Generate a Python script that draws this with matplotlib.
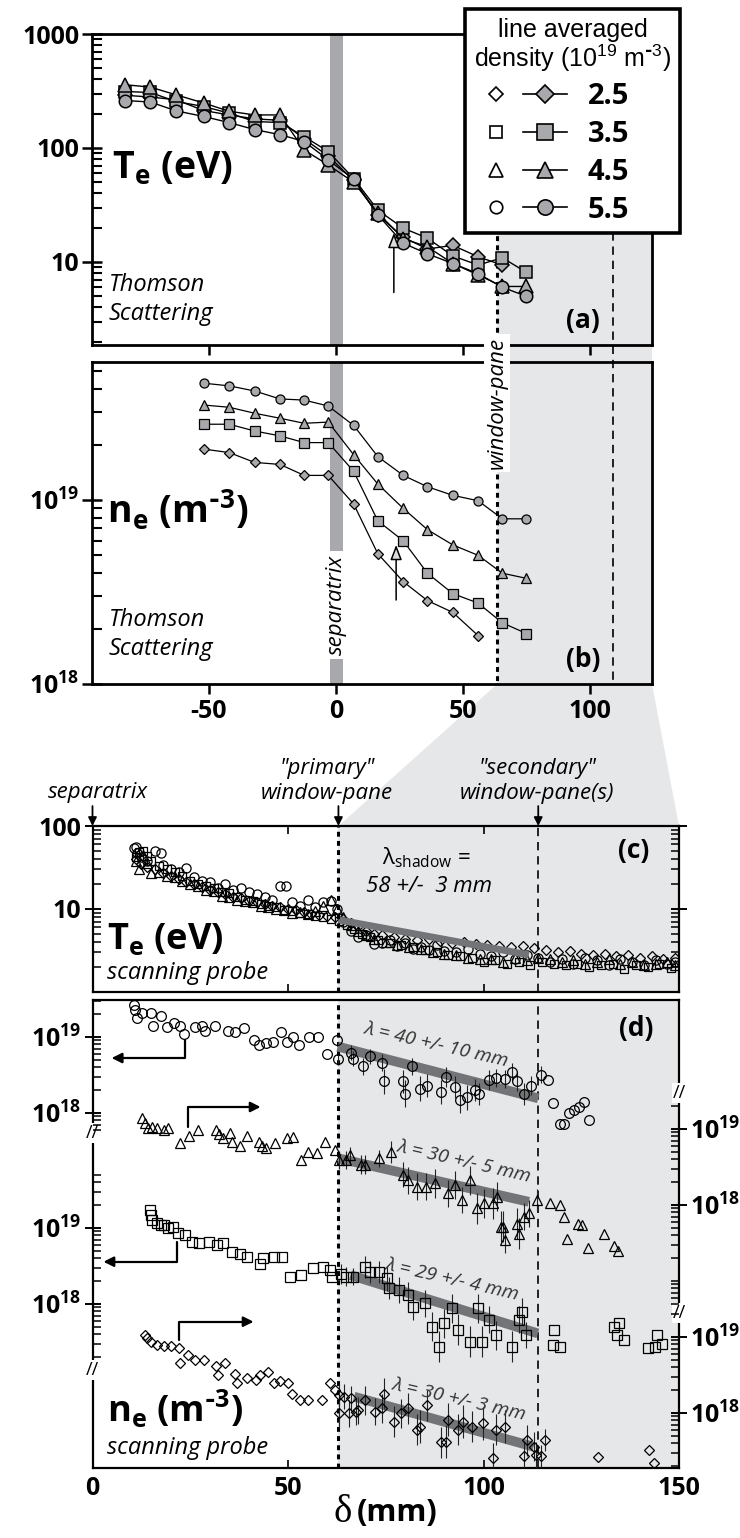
import numpy as np
import matplotlib
matplotlib.use("Agg")
import matplotlib.pyplot as plt
from matplotlib.lines import Line2D
from matplotlib.patches import Polygon
from matplotlib.legend_handler import HandlerTuple
from matplotlib.ticker import FixedLocator, FuncFormatter, NullFormatter

plt.rcParams["font.family"] = ["Open Sans", "DejaVu Sans"]
plt.rcParams["font.weight"] = "bold"
plt.rcParams["mathtext.default"] = "regular"
plt.rcParams["axes.unicode_minus"] = False

# ---------------- data ----------------
# Thomson scattering, panels (a) and (b): distance from separatrix (mm)
ts_delta = [-83, -73, -63, -52, -42, -32, -22, -12.5, -3, 7, 16.5, 26.5, 36, 46, 56, 65.5, 75]
line_avg_density = ["2.5", "3.5", "4.5", "5.5"]

# Te (eV) for each line averaged density
ts_te_25 = [290, 280, 265, 213, 195, 180, 175, 120, 85, 52, 26, 16.5, 13, 14, 11.1, 9.4]
ts_te_35 = [313, 307, 256, 231, 202, 171, 167, 126, 93, 54, 28.5, 19.8, 16.2, 11.3, 9.4, 10.9, 8.1]
ts_te_45 = [359, 342, 293, 248, 210, 195, 195, 96, 71, 50, 27, 16, 13.6, 9.7, 7.7, 6.1, 6.1]
ts_te_55 = [261, 253, 212, 189, 167, 145, 131, 114, 78.7, 53, 25.9, 14.6, 11.8, 9.7, 7.9, 6.0, 5.0]

# ne (m^-3), these start at delta = -52 mm
ts_ne_25 = [1.89e19, 1.81e19, 1.60e19, 1.56e19, 1.36e19, 1.36e19, 9.5e18, 5.1e18, 3.6e18, 2.84e18, 2.45e18, 1.83e18]
ts_ne_35 = [2.58e19, 2.58e19, 2.37e19, 2.23e19, 2.05e19, 2.05e19, 1.43e19, 7.7e18, 6.0e18, 4.0e18, 3.1e18, 2.75e18, 2.15e18, 1.88e18]
ts_ne_45 = [3.28e19, 3.19e19, 2.96e19, 2.78e19, 2.61e19, 2.65e19, 1.76e19, 1.22e19, 9.0e18, 6.9e18, 5.7e18, 5.0e18, 4.0e18, 3.75e18]
ts_ne_55 = [4.31e19, 4.17e19, 3.91e19, 3.54e19, 3.49e19, 3.24e19, 2.54e19, 1.72e19, 1.36e19, 1.18e19, 1.06e19, 9.9e18, 7.9e18, 7.9e18]

# key positions (mm)
separatrix_band = (-2.3, 2.8)
ts_window_primary = 63.5
ts_window_secondary = 109.2
probe_window_primary = 62.9
probe_window_secondary = 114.0

# Scanning probe Te (eV), panel (c)
probe_te_o_x = [10.5, 11, 11.5, 12.5, 14, 16, 17.5, 18, 20, 22, 24, 26, 28, 30, 32, 34, 36, 38, 40, 42, 44, 46,
                48, 49.5, 51, 53, 55, 57, 59, 61, 62.5, 64, 66, 68, 70, 72, 74, 76, 78, 80, 82, 84, 86, 88, 90,
                93, 96, 99, 102, 105, 108, 111, 114, 117, 120, 123, 126, 129, 132, 135, 138, 141, 144, 147, 149]
probe_te_o = [55, 56, 47, 42, 38, 50, 47, 34, 30, 28, 31, 24, 22, 21, 18, 20, 17, 18, 16, 15, 14, 13,
              19, 19, 12, 11, 13, 10.5, 12, 12.5, 10, 7, 5.5, 4.6, 4.8, 3.8, 3.9, 4.2, 3.6, 3.9, 3.3, 3.5, 3.2, 3.7, 3.1,
              3.0, 3.3, 2.9, 2.7, 3.0, 2.5, 2.8, 2.6, 2.3, 2.5, 2.2, 2.6, 2.4, 2.1, 2.5, 2.3, 2.1, 2.4, 2.2, 2.3]
probe_te_s_x = [11, 12, 13, 14, 15, 17, 19, 21, 23, 25, 27, 29, 31, 33, 35, 37, 39, 41, 43, 45, 47, 49, 51, 53,
                55, 57, 59, 61, 63, 65, 67, 69, 71, 73, 76, 79, 82, 85, 88, 91, 94, 97, 100, 103, 106, 109, 112,
                115, 118, 121, 124, 127, 130, 133, 136, 139, 142, 145, 148]
probe_te_s = [42, 48, 50, 44, 38, 33, 30, 28, 25, 22, 20, 19, 18, 16, 15.5, 14, 13, 12.5, 11.5, 11, 10.5, 9.8, 9.5, 9,
              8.6, 8.2, 8, 7.5, 7.2, 6.5, 5.8, 5, 4.6, 4.2, 3.9, 3.7, 3.5, 3.2, 3.0, 2.8, 2.7, 2.6, 2.3, 2.4, 2.2, 2.3, 2.1,
              2.3, 2.2, 2.1, 2.2, 2.0, 2.1, 2.2, 1.9, 2.1, 2.0, 2.2, 1.95]
probe_te_t_x = [11, 12, 13, 14, 15, 17, 19, 21, 23, 25, 27, 29, 31, 33, 35, 37, 39, 41, 43, 45, 47, 49, 51, 53,
                55, 57, 59, 61, 62.5, 64, 66, 68, 70, 72, 75, 78, 81, 84, 87, 90, 93, 96, 99, 102, 105, 108, 111,
                114, 117, 120, 123, 126, 129, 132, 135, 138, 141, 144, 147, 149]
probe_te_t = [38, 30, 45, 36, 27, 28, 25, 24, 22, 20, 19, 17, 16.5, 14.5, 14, 13, 12.5, 12, 11, 10.5, 10, 9.6, 9, 9.2,
              8.8, 9.5, 11, 13, 10, 8, 6.5, 5.5, 4.8, 4.4, 4, 3.7, 3.5, 3.3, 3.0, 2.9, 2.8, 2.6, 2.5, 2.5, 2.3, 2.6, 2.4,
              2.6, 2.5, 2.3, 2.4, 2.2, 2.3, 2.5, 2.2, 2.3, 2.1, 2.2, 2.3, 2.1]
probe_te_d_x = [11, 12.5, 14, 16, 18, 20, 22, 24, 26, 28, 30, 32, 34, 36, 38, 40, 42, 44, 46, 48, 50, 52, 54, 56,
                58, 60, 62, 64, 66, 68, 70, 72, 74, 77, 80, 83, 86, 89, 92, 95, 98, 101, 104, 107, 110, 113, 116,
                119, 122, 125, 128, 131, 134, 137, 140, 143, 146, 149]
probe_te_d = [40, 35, 32, 30, 27, 25, 23, 21, 20, 18.5, 17, 16, 15, 14, 13.5, 12.5, 12, 11.5, 11, 10.5, 10, 9.6, 9.2, 8.8,
              8.5, 8.2, 8, 7.5, 6.8, 6.2, 5.5, 5, 4.8, 4.6, 4.4, 4.2, 4.3, 4.1, 3.9, 4.0, 3.8, 3.7, 3.6, 3.5, 3.6, 3.4, 3.2,
              3.0, 3.1, 2.9, 2.8, 2.9, 2.7, 2.8, 2.6, 2.7, 2.5, 2.6]
te_fit_x = [62.9, 111.6]
te_fit = [7.4, 2.8]

# Scanning probe ne (10^18 m^-3), panel (d); err = relative error bar size
probe_ne_o_x = [10.7, 10.9, 11.5, 12.7, 14.9, 15.4, 17.6, 19.1, 20.9, 22.4, 23.4, 26.1, 27.9, 28.8, 31.3, 34.6, 36.4,
                38.8, 41.3, 42.5, 44.3, 46.1, 48.2, 49.7, 51.3, 52.8, 55.4, 57.6, 60.1, 62.5, 62.7, 66.1, 66.7, 69.2,
                71.0, 74.0, 74.6, 79.5, 79.8, 81.7, 83.7, 85.5, 89.2, 90.4, 92.6, 94.0, 95.9, 97.7, 98.9, 101.3,
                103.1, 105.5, 107.4, 108.6, 110.4, 112.2, 114.7, 116.5, 117.7, 119.5, 120.7, 121.9, 123.1, 124.3,
                125.6, 127.0]
probe_ne_o = [26, 23, 18, 21, 21, 14, 19, 13.5, 15.5, 14, 11, 13.5, 14, 12, 14, 12, 11.5, 13, 9, 7.8, 8.3, 8.7, 11.5,
              8.7, 10, 7.8, 10, 10, 6, 9, 5.2, 6.2, 5.2, 4.1, 5.6, 4.6, 2.6, 2.6, 1.8, 4.1, 2.1, 2.3, 1.9, 3.0, 2.2, 1.5,
              1.6, 2.0, 1.8, 2.7, 2.9, 2.8, 3.5, 2.6, 1.8, 2.3, 3.2, 2.7, 1.35, 0.72, 0.72, 1.0, 1.1, 1.2, 1.4, 0.81]
probe_ne_o_err = [0] * 30 + [0.2, 0.25, 0.25, 0.3, 0.25, 0.3, 0.45, 0.4, 0.5, 0.3, 0.45, 0.4, 0.45, 0.35, 0.4, 0.5,
                             0.45, 0.4, 0.4, 0.35, 0.3, 0.3, 0.3, 0.35, 0.4, 0.35, 0.3] + [0] * 9
probe_ne_t_x = [12.7, 13.3, 14.2, 15.2, 16.4, 18.2, 19.4, 22.4, 24.6, 27.0, 31.5, 32.4, 33.4, 35.2, 35.8, 37.6, 39.5,
                42.5, 43.3, 44.3, 46.7, 49.7, 51.3, 53.4, 55.2, 57.4, 59.5, 61.9, 63.1, 64.9, 65.9, 68.6, 69.8, 73.4,
                76.4, 79.5, 80.7, 83.1, 85.3, 87.7, 91.0, 92.6, 94.6, 96.5, 98.3, 100.1, 102.5, 103.5, 104.4, 104.9,
                105.6, 108.6, 109.2, 110.4, 111.6, 113.7, 117.1, 119.5, 120.5, 121.3, 124.1, 125.3, 126.8, 130.7,
                133.5, 134.3]
probe_ne_t = [13.8, 11.9, 10.2, 10.7, 10.2, 9.7, 10.2, 6.5, 8.1, 9.7, 9.7, 8.6, 7.5, 8.8, 6.8, 5.9, 8.1, 6.8, 5.9, 5.6,
              6.5, 7.5, 7.8, 3.9, 5.0, 4.9, 6.8, 5.3, 3.9, 3.9, 4.5, 3.4, 3.4, 4.1, 5.0, 2.5, 2.1, 1.74, 1.74, 1.93,
              1.43, 1.83, 1.16, 2.1, 0.90, 1.05, 1.05, 1.29, 0.52, 0.52, 0.35, 0.57, 0.42, 0.70, 0.78, 1.16, 1.05, 1.0,
              0.70, 0.36, 0.57, 0.55, 0.27, 0.42, 0.29, 0.245]
probe_ne_t_err = [0] * 28 + [0.3, 0.3, 0.3, 0.35, 0.35, 0.3, 0.4, 0.45, 0.5, 0.5, 0.5, 0.55, 0.5, 0.55, 0.5, 0.55,
                             0.6, 0.55, 0.6, 0.55, 0.6, 0.6, 0.5, 0.6, 0.6, 0.5, 0.5, 0.4] + [0] * 10
probe_ne_s_x = [14.6, 15.0, 15.2, 16.4, 17.6, 18.2, 19.4, 20.6, 21.8, 23.7, 25.5, 27.3, 29.7, 31.9, 33.4, 35.8, 37.6,
                39.4, 42.8, 43.7, 46.5, 48.5, 50.4, 53.4, 56.4, 58.9, 60.7, 61.3, 63.5, 64.9, 66.7, 69.8, 71.0, 73.4,
                75.2, 75.8, 78.3, 80.7, 81.9, 85.0, 86.8, 88.6, 89.8, 91.9, 93.4, 96.5, 98.7, 99.5, 101.3, 103.1,
                107.4, 109.2, 109.8, 110.8, 117.7, 118.1, 119.5, 133.5, 134.1, 134.7, 135.9, 142.0, 143.8, 144.4, 145.6]
probe_ne_s = [17.2, 14.8, 12.7, 11.5, 10.9, 11.0, 9.9, 10.4, 8.5, 8.1, 6.6, 6.3, 6.6, 6.0, 6.3, 4.9, 4.6, 4.2, 3.4, 4.0,
              4.2, 4.2, 2.3, 2.4, 2.95, 3.1, 2.8, 2.3, 2.5, 2.3, 2.3, 3.1, 2.66, 2.66, 2.18, 1.61, 1.53, 1.31, 0.92, 1.02,
              0.50, 0.275, 0.56, 0.88, 0.455, 0.32, 0.88, 0.32, 0.62, 0.39, 0.275, 0.62, 0.79, 0.39, 0.29, 0.455, 0.275,
              0.50, 0.39, 0.56, 0.34, 0.26, 0.275, 0.39, 0.30]
probe_ne_s_err = [0] * 28 + [0.35, 0.35, 0.3, 0.4, 0.4, 0.4, 0.45, 0.4, 0.5, 0.5, 0.5, 0.5, 0.55, 0.6, 0.55, 0.55,
                             0.6, 0.6, 0.55, 0.6, 0.5, 0.55, 0.6, 0.5, 0.5, 0.5] + [0] * 11
probe_ne_d_x = [13.4, 14.0, 14.9, 16.4, 18.2, 20.0, 22.2, 22.5, 24.3, 26.1, 28.5, 31.6, 32.2, 34.0, 36.4, 37.0, 39.4,
                41.9, 42.8, 44.9, 46.5, 48.0, 50.1, 51.0, 53.0, 55.2, 58.6, 60.7, 61.9, 63.1, 63.1, 64.3, 65.5, 66.1,
                67.4, 68.0, 69.8, 72.2, 74.0, 74.6, 77.1, 78.9, 80.7, 83.1, 83.7, 85.5, 89.2, 90.4, 91.0, 93.4, 94.7,
                97.1, 99.9, 102.5, 103.1, 105.6, 110.4, 111.0, 112.9, 113.5, 114.7, 115.7, 129.2, 142.3, 143.6]
probe_ne_d = [10.6, 9.6, 8.7, 7.85, 7.5, 7.6, 7.1, 4.5, 5.8, 5.0, 5.0, 4.1, 3.16, 4.5, 3.3, 2.45, 2.86, 2.7, 3.16, 3.5,
              2.45, 2.6, 2.45, 1.8, 1.48, 1.48, 1.48, 2.45, 2.0, 1.72, 0.99, 1.64, 0.99, 1.56, 1.04, 1.09, 1.48, 1.04,
              1.15, 1.8, 0.77, 0.99, 1.15, 0.60, 0.66, 1.27, 0.41, 0.42, 0.81, 0.60, 0.77, 0.66, 0.73, 0.254, 0.60, 0.66,
              0.27, 0.44, 0.36, 0.28, 0.27, 0.44, 0.26, 0.33, 0.218]
probe_ne_d_err = [0] * 29 + [0.4, 0.5, 0.45, 0.5, 0.45, 0.5, 0.5, 0.55, 0.5, 0.55, 0.6, 0.6, 0.55, 0.6, 0.6, 0.65,
                             0.6, 0.6, 0.65, 0.65, 0.6, 0.65, 0.6, 0.65, 0.6, 0.6, 0.65, 0.6, 0.6, 0.55, 0.5, 0.4,
                             0.4] + [0] * 3

# exponential fits in the shadow (mm, 10^18 m^-3)
ne_fit_o = ([62.7, 114.0], [7.5, 1.56])
ne_fit_t = ([63.0, 111.6], [4.1, 1.1])
ne_fit_s = ([66.0, 113.9], [2.4, 0.41])
ne_fit_d = ([66.9, 112.8], [1.64, 0.36])
ne_fit_labels = ["λ = 40 +/- 10 mm", "λ = 30 +/- 5 mm", "λ = 29 +/- 4 mm", "λ = 30 +/- 3 mm"]

# ---------------- styling ----------------
W, H = 740, 1538
gray_fill = "#a7a9ac"
shade = "#e6e7e8"
fit_gray = "#737477"
markers = {"2.5": "D", "3.5": "s", "4.5": "^", "5.5": "o"}
msize = {"2.5": 0.8, "3.5": 1.0, "4.5": 1.05, "5.5": 1.0}
neg3 = r"$^{\text{-}3}$"


def fx(px):
    return px / W


def fy(py):
    return 1 - py / H


def dec_label(v, pos):
    return r"$10^{%d}$" % round(np.log10(v))


fig = plt.figure(figsize=(7.4, 15.38), dpi=100)
ax_a = fig.add_axes([fx(92), fy(345), (652 - 92) / W, (345 - 34) / H], facecolor="none")
ax_b = fig.add_axes([fx(92), fy(684), (652 - 92) / W, (684 - 362) / H], facecolor="none", sharex=ax_a)
ax_c = fig.add_axes([fx(92.5), fy(992), (679 - 92.5) / W, (992 - 826) / H], facecolor="none")
ax_d = fig.add_axes([fx(92.5), fy(1468), (679 - 92.5) / W, (1468 - 1000) / H], facecolor="none", sharex=ax_c)

# ---------- panels (a) and (b): Thomson scattering ----------
ts_te = {"2.5": ts_te_25, "3.5": ts_te_35, "4.5": ts_te_45, "5.5": ts_te_55}
ts_ne = {"2.5": ts_ne_25, "3.5": ts_ne_35, "4.5": ts_ne_45, "5.5": ts_ne_55}
for key in line_avg_density:
    te = ts_te[key]
    ax_a.plot(ts_delta[:len(te)], te, color="k", lw=1.0, marker=markers[key], ms=9 * msize[key],
              mfc=gray_fill, mec="k", mew=1.1, zorder=3)
    ne = ts_ne[key]
    ax_b.plot(ts_delta[3:3 + len(ne)], ne, color="k", lw=0.9, marker=markers[key], ms=6.5 * msize[key],
              mfc=gray_fill, mec="k", mew=0.9, zorder=3)

for ax in (ax_a, ax_b):
    ax.set_yscale("log")
    ax.axvspan(*separatrix_band, color=gray_fill, lw=0, zorder=1)
    for s in ax.spines.values():
        s.set_linewidth(2.0)
    ax.tick_params(axis="y", which="major", direction="inout", length=14, width=1.8, labelsize=18, pad=2)
    ax.tick_params(axis="y", which="minor", direction="in", length=7, width=1.5)
    ax.tick_params(axis="x", which="major", direction="out", length=7, width=1.8, labelsize=18)
    ax.yaxis.set_minor_formatter(NullFormatter())

ax_a.set_xlim(-96, 124.4)
ax_b.set_xticks([-50, 0, 50, 100])
ax_a.tick_params(axis="x", labelbottom=False)

ax_a.set_ylim(1.87, 1000)
ax_a.yaxis.set_major_locator(FixedLocator([10, 100, 1000]))
ax_a.yaxis.set_major_formatter(FuncFormatter(lambda v, p: "%d" % v))
ax_b.set_ylim(1e18, 5.62e19)
ax_b.yaxis.set_major_locator(FixedLocator([1e18, 1e19]))
ax_b.yaxis.set_major_formatter(FuncFormatter(dec_label))

ax_a.annotate("", xy=(22.8, 18), xytext=(22.8, 5.4),
              arrowprops=dict(arrowstyle="-|>,head_length=0.9,head_width=0.35", fc="#dcdcdc", ec="k",
                              lw=1.1, shrinkA=0, shrinkB=0), zorder=4)
ax_b.annotate("", xy=(23.7, 5.7e18), xytext=(23.7, 2.86e18),
              arrowprops=dict(arrowstyle="-|>,head_length=0.9,head_width=0.35", fc="#dcdcdc", ec="k",
                              lw=1.1, shrinkA=0, shrinkB=0), zorder=4)

ax_a.text(0.035, 0.566, r"T$_e$ (eV)", transform=ax_a.transAxes, fontsize=27, ha="left", va="center")
ax_a.text(0.03, 0.146, "Thomson\nScattering", transform=ax_a.transAxes, fontsize=17, style="italic",
          weight="normal", ha="left", va="center", linespacing=1.25)
ax_a.text(0.877, 0.08, "(a)", transform=ax_a.transAxes, fontsize=19, ha="center", va="center")

ax_b.text(0.027, 0.54, r"n$_e$ (m" + neg3 + ")", transform=ax_b.transAxes, fontsize=27, ha="left", va="center")
ax_b.text(0.03, 0.154, "Thomson\nScattering", transform=ax_b.transAxes, fontsize=17, style="italic",
          weight="normal", ha="left", va="center", linespacing=1.25)
ax_b.text(0.877, 0.075, "(b)", transform=ax_b.transAxes, fontsize=19, ha="center", va="center")
ax_b.text(np.mean(separatrix_band), 0.245, "separatrix", transform=ax_b.get_xaxis_transform(), rotation=90,
          fontsize=16, style="italic", weight="normal", ha="center", va="center",
          bbox=dict(fc="white", ec="none", pad=3), zorder=6)
ax_b.text(ts_window_primary, 0.873, "window-pane", transform=ax_b.get_xaxis_transform(), rotation=90,
          fontsize=16, style="italic", weight="normal", ha="center", va="center", clip_on=False,
          bbox=dict(fc="white", ec="none", pad=2), zorder=6)

# ---------- panel (c): probe Te ----------
probe_te = [(probe_te_o_x, probe_te_o, "o", 6.6), (probe_te_s_x, probe_te_s, "s", 6.0),
            (probe_te_t_x, probe_te_t, "^", 6.6), (probe_te_d_x, probe_te_d, "D", 5.0)]
for xs, ys, m, ms in probe_te:
    ax_c.plot(xs, ys, ls="none", marker=m, ms=ms, mfc="none", mec="k", mew=0.9, zorder=2)
ax_c.plot(te_fit_x, te_fit, color=fit_gray, lw=5, solid_capstyle="butt", zorder=3)
ax_c.set_yscale("log")
ax_c.set_ylim(1, 100)
ax_c.set_xlim(0, 150)
ax_c.yaxis.set_major_locator(FixedLocator([10, 100]))
ax_c.yaxis.set_major_formatter(FuncFormatter(lambda v, p: "%d" % v))
ax_c.yaxis.set_minor_formatter(NullFormatter())
ax_c.tick_params(axis="y", which="major", direction="inout", length=12, width=1.4, labelsize=18, right=True, pad=2)
ax_c.tick_params(axis="y", which="minor", direction="in", length=6, width=1.1, right=True)
ax_c.tick_params(axis="x", which="major", direction="in", length=6, width=1.2, top=True, labelbottom=False)
ax_c.set_xticks([0, 50, 100, 150])
for s in ax_c.spines.values():
    s.set_linewidth(1.6)
ax_c.axvspan(probe_window_primary, 150, color=shade, lw=0, zorder=0)
ax_c.axvline(probe_window_primary, color="k", ls=(0, (1.6, 1.4)), lw=2.2, zorder=4)
ax_c.axvline(probe_window_secondary, color="k", ls=(0, (5, 3.5)), lw=1.2, zorder=4)
ax_c.text(0.024, 0.313, r"T$_e$ (eV)", transform=ax_c.transAxes, fontsize=26, ha="left", va="center")
ax_c.text(0.025, 0.114, "scanning probe", transform=ax_c.transAxes, fontsize=17, style="italic",
          weight="normal", ha="left", va="center")
ax_c.text(0.922, 0.855, "(c)", transform=ax_c.transAxes, fontsize=19, ha="center", va="center")
ax_c.text(0.57, 0.81, r"λ$_{shadow}$ =", transform=ax_c.transAxes, fontsize=16, weight="normal",
          ha="center", va="center")
ax_c.text(0.574, 0.633, "58 +/-  3 mm", transform=ax_c.transAxes, fontsize=16, weight="normal",
          style="italic", ha="center", va="center")

# arrows and labels above panel (c)
top_labels = [(0, "separatrix"), (probe_window_primary, "\"primary\"\nwindow-pane"),
              (probe_window_secondary, "\"secondary\"\nwindow-pane(s)")]
for xv, lab in top_labels:
    ax_c.annotate("", xy=(xv, 1.0), xycoords=ax_c.get_xaxis_transform(), xytext=(xv, 1.12),
                  textcoords=ax_c.get_xaxis_transform(), annotation_clip=False,
                  arrowprops=dict(arrowstyle="-|>,head_length=0.5,head_width=0.25", color="k", lw=1.3,
                                  shrinkA=0, shrinkB=0))
fig.text(fx(98), fy(793), "separatrix", fontsize=16, style="italic", weight="normal", ha="center", va="center")
fig.text(fx(327), fy(781), "\"primary\"\nwindow-pane", fontsize=16, style="italic", weight="normal",
         ha="center", va="center", linespacing=1.2)
fig.text(fx(537), fy(781), "\"secondary\"\nwindow-pane(s)", fontsize=16, style="italic", weight="normal",
         ha="center", va="center", linespacing=1.2)

# ---------- panel (d): probe ne, four stacked log scales ----------
ax_d.set_xlim(0, 150)
ax_d.set_xticks([0, 50, 100, 150])
ax_d.tick_params(axis="x", which="major", direction="in", length=6, width=1.2, labelsize=18, pad=6)
ax_d.tick_params(axis="y", left=False, labelleft=False)
ax_d.set_yticks([])
for s in ax_d.spines.values():
    s.set_linewidth(1.6)
ax_d.axvspan(probe_window_primary, 150, color=shade, lw=0, zorder=0)
ax_d.axvline(probe_window_primary, color="k", ls=(0, (1.6, 1.4)), lw=2.2, zorder=4)
ax_d.axvline(probe_window_secondary, color="k", ls=(0, (5, 3.5)), lw=1.2, zorder=4)


def minor_list(lo, hi):
    vals = []
    for d in range(15, 21):
        for k in range(1, 10):
            v = k * 10.0 ** d
            if lo <= v <= hi and not (k == 1 and d in (18, 19)):
                vals.append(v)
    return vals


# (x, n, err, marker, size, side, log10 ylim, tick range, fit)
probe_sets = [
    (probe_ne_o_x, probe_ne_o, probe_ne_o_err, "o", 7.0, "left", (13.329, 19.487), (5.5e17, 3.1e19), ne_fit_o),
    (probe_ne_t_x, probe_ne_t, probe_ne_t_err, "^", 7.2, "right", (14.539, 20.697), (4.5e16, 2.1e19), ne_fit_t),
    (probe_ne_s_x, probe_ne_s, probe_ne_s_err, "s", 6.8, "left", (15.842, 22.0), (1.5e17, 5.5e19), ne_fit_s),
    (probe_ne_d_x, probe_ne_d, probe_ne_d_err, "D", 5.6, "right", (17.276, 23.434), (1.9e17, 2.1e19), ne_fit_d),
]
label_pos = [(0.586, 0.904), (0.633, 0.654), (0.612, 0.402), (0.624, 0.147)]

for (xs, ns, err, m, ms, side, ylog, trange, fit), lab, lpos in zip(probe_sets, ne_fit_labels, label_pos):
    sub = fig.add_axes(ax_d.get_position(), facecolor="none", sharex=ax_d)
    sub.set_yscale("log")
    sub.set_ylim(10 ** ylog[0], 10 ** ylog[1])
    for s in sub.spines.values():
        s.set_visible(False)
    sub.tick_params(axis="x", which="both", bottom=False, labelbottom=False)
    n = np.array(ns) * 1e18
    rel = np.array(err)
    sub.errorbar(xs, n, yerr=[n * rel / (1 + rel), n * rel], fmt=m, ms=ms, mfc="none", mec="k", mew=0.9,
                 ecolor="#222222", elinewidth=0.8, capsize=0, zorder=3)
    sub.plot(fit[0], np.array(fit[1]) * 1e18, color=fit_gray, lw=7, solid_capstyle="butt", zorder=2)
    if side == "left":
        sub.yaxis.tick_left()
    else:
        sub.yaxis.tick_right()
    sub.yaxis.set_major_locator(FixedLocator([1e18, 1e19]))
    sub.yaxis.set_minor_locator(FixedLocator(minor_list(*trange)))
    sub.yaxis.set_major_formatter(FuncFormatter(dec_label))
    sub.yaxis.set_minor_formatter(NullFormatter())
    sub.tick_params(axis="y", which="major", direction="inout", length=12, width=1.4, labelsize=18, pad=2)
    sub.tick_params(axis="y", which="minor", direction="in", length=6, width=1.1)
    sub.text(lpos[0], lpos[1], lab, transform=sub.transAxes, rotation=-13, fontsize=14, style="italic",
             weight="normal", color="#333333", ha="center", va="center")

# axis breaks
for side_x, yb in [(0, (1468 - 1133) / 468), (0, (1468 - 1370) / 468), (1, (1468 - 1093) / 468),
                   (1, (1468 - 1313) / 468)]:
    ax_d.text(side_x, yb, "//", transform=ax_d.transAxes, fontsize=13, weight="normal", ha="center",
              va="center", bbox=dict(fc="white", ec="none", pad=0.5), zorder=6, clip_on=False)

# bent arrows pointing at the axis that goes with each profile
xt = ax_d.get_xaxis_transform()
for start, end in [((23.7, 0.9145), (4.9, 0.876)), ((24.3, 0.7286), (43.0, 0.7714)),
                   ((21.5, 0.4835), (2.8, 0.4408)), ((22.2, 0.2735), (41.2, 0.3126))]:
    ax_d.annotate("", xy=end, xycoords=xt, xytext=start, textcoords=xt,
                  arrowprops=dict(arrowstyle="-|>,head_length=0.6,head_width=0.3", color="k", lw=1.6,
                                  shrinkA=0, shrinkB=0, connectionstyle="angle,angleA=90,angleB=0,rad=0"),
                  zorder=6)

ax_d.text(0.024, 0.124, r"n$_e$ (m" + neg3 + ")", transform=ax_d.transAxes, fontsize=26, ha="left", va="center")
ax_d.text(0.025, 0.043, "scanning probe", transform=ax_d.transAxes, fontsize=17, style="italic",
          weight="normal", ha="left", va="center")
ax_d.text(0.927, 0.94, "(d)", transform=ax_d.transAxes, fontsize=19, ha="center", va="center", zorder=6)

fig.text(fx(352), fy(1512), "δ", fontsize=28, family="Liberation Serif", weight="normal", ha="right", va="center")
fig.text(fx(357), fy(1513), "(mm)", fontsize=22, ha="left", va="center")

# ---------- shading that joins the Thomson window-pane region with the probe panels ----------
to_fig = fig.transFigure.inverted()


def fig_pt(ax, x, yfrac):
    return to_fig.transform(ax.get_xaxis_transform().transform((x, yfrac)))


xmax_ab = ax_b.get_xlim()[1]
poly = [fig_pt(ax_a, ts_window_primary, 1.0), fig_pt(ax_a, xmax_ab, 1.0), fig_pt(ax_b, xmax_ab, 0.0),
        fig_pt(ax_c, 150, 1.0), fig_pt(ax_c, probe_window_primary, 1.0), fig_pt(ax_b, ts_window_primary, 0.0)]
fig.patches.append(Polygon(poly, closed=True, transform=fig.transFigure, fc=shade, ec="none", zorder=-1))
for xv, ls, lw in [(ts_window_primary, (0, (1.6, 1.4)), 2.2), (ts_window_secondary, (0, (5, 3.5)), 1.2)]:
    p0 = fig_pt(ax_a, xv, 1.0)
    p1 = fig_pt(ax_b, xv, 0.0)
    fig.add_artist(Line2D([p0[0], p1[0]], [p0[1], p1[1]], transform=fig.transFigure, color="k", ls=ls,
                          lw=lw, zorder=-0.5))

# ---------- legend ----------
handles = []
for key in line_avg_density:
    m = markers[key]
    open_h = Line2D([], [], ls="none", marker=m, ms=9 * msize[key], mfc="white", mec="k", mew=1.2)
    fill_h = Line2D([], [], color="k", lw=1.2, marker=m, ms=11 * msize[key], mfc=gray_fill, mec="k", mew=1.2)
    handles.append((open_h, fill_h))
leg = fig.legend(handles, line_avg_density, handler_map={tuple: HandlerTuple(ndivide=None, pad=0.15)},
                 loc="upper left", bbox_to_anchor=(fx(465), fy(9)), bbox_transform=fig.transFigure,
                 title="line averaged\ndensity (10$^{19}$ m" + neg3 + ")",
                 title_fontproperties={"family": "Liberation Sans", "size": 18, "weight": "normal"},
                 prop={"size": 21, "weight": "bold"}, frameon=True, fancybox=False, framealpha=1,
                 edgecolor="k", borderpad=0.3, handlelength=3.2, handletextpad=0.7, labelspacing=0.3,
                 borderaxespad=0, alignment="left")
leg.get_title().set_multialignment("center")
leg.get_title().set_linespacing(1.02)
leg.get_frame().set_linewidth(2.6)
leg.set_zorder(10)

fig.savefig("out.png", dpi=100)
